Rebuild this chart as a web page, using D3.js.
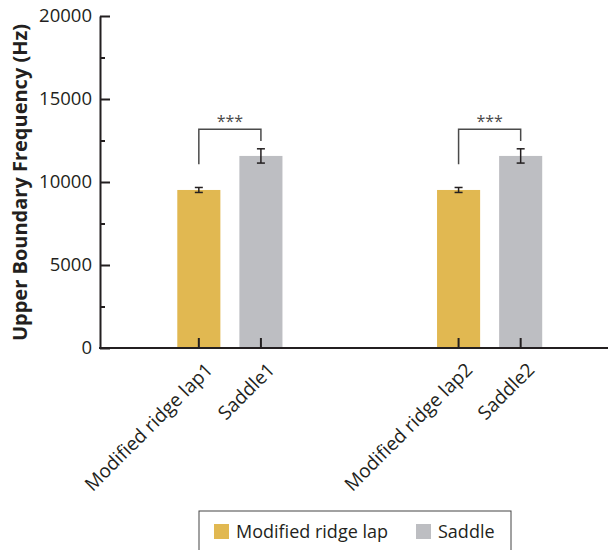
<!DOCTYPE html>
<html>
<head>
<meta charset="utf-8">
<script src="https://cdn.jsdelivr.net/npm/d3@7"></script>
<style>
  html, body { margin: 0; padding: 0; background: #fff; }
  svg { display: block; }
  text { font-family: "Open Sans", "Noto Sans", sans-serif; fill: #231f20; }
</style>
</head>
<body>
<svg id="chart" width="608" height="550"></svg>
<script>
// Upper boundary frequency by position, two measurement sets
const groups = ["1", "2"];
const seriesNames = ["Modified ridge lap", "Saddle"];
const categoryLabels = [
  ["Modified ridge lap1", "Saddle1"],
  ["Modified ridge lap2", "Saddle2"]
];
const ridgeLapMeans = [9520, 9520];
const ridgeLapErrors = [150, 150];
const saddleMeans = [11570, 11570];
const saddleErrors = [430, 430];
const significance = ["***", "***"];
const yTicks = [0, 5000, 10000, 15000, 20000];
const yMinorTicks = [2500, 7500, 12500, 17500];

const colors = ["#e1b851", "#bdbec2"];
const ink = "#231f20";

const svg = d3.select("#chart");
svg.append("rect").attr("width", 608).attr("height", 550).attr("fill", "#fff");

const plotLeft = 100, plotBottom = 348, plotTop = 16, plotRight = 619.5;

const y = d3.scaleLinear().domain([0, 20000]).range([plotBottom, plotTop]);
const xGroup = d3.scaleBand().domain(groups).range([plotLeft, plotRight]).padding(0);
const xSeries = d3.scaleBand().domain(seriesNames).range([0, xGroup.bandwidth()])
  .paddingInner(0.306).paddingOuter(1.245);

const rows = groups.map((g, i) => ({
  group: g,
  values: [
    { series: seriesNames[0], mean: ridgeLapMeans[i], err: ridgeLapErrors[i], label: categoryLabels[i][0] },
    { series: seriesNames[1], mean: saddleMeans[i], err: saddleErrors[i], label: categoryLabels[i][1] }
  ],
  sig: significance[i]
}));

const cx = (g, s) => xGroup(g) + xSeries(s) + xSeries.bandwidth() / 2;

// bars
const gBars = svg.append("g");
rows.forEach(r => {
  r.values.forEach((v, j) => {
    gBars.append("rect")
      .attr("x", xGroup(r.group) + xSeries(v.series))
      .attr("y", y(v.mean))
      .attr("width", xSeries.bandwidth())
      .attr("height", y(0) - y(v.mean))
      .attr("fill", colors[j]);
  });
});

// error bars
const gErr = svg.append("g").attr("stroke", ink).attr("stroke-width", 1.5).attr("fill", "none");
rows.forEach(r => {
  r.values.forEach(v => {
    const x = cx(r.group, v.series);
    const y1 = y(v.mean + v.err), y0 = y(v.mean - v.err);
    gErr.append("line").attr("x1", x).attr("x2", x).attr("y1", y1).attr("y2", y0);
    gErr.append("line").attr("x1", x - 4).attr("x2", x + 4).attr("y1", y1).attr("y2", y1);
    gErr.append("line").attr("x1", x - 4).attr("x2", x + 4).attr("y1", y0).attr("y2", y0);
  });
});

// significance brackets
const gSig = svg.append("g");
rows.forEach(r => {
  const a = r.values[0], b = r.values[1];
  const xa = cx(r.group, a.series), xb = cx(r.group, b.series);
  const yTop = y(Math.max(a.mean + a.err, b.mean + b.err)) - 19.5;
  gSig.append("path")
    .attr("d", `M${xa},${yTop + 35}V${yTop}H${xb}V${yTop + 11.7}`)
    .attr("fill", "none").attr("stroke", "#4a4a4a").attr("stroke-width", 1.5);
  gSig.append("text")
    .attr("x", (xa + xb) / 2).attr("y", yTop - 2.5)
    .attr("text-anchor", "middle").attr("font-size", 16).style("fill", "#4a4a4a")
    .text(r.sig);
});

// y axis
const yAxis = svg.append("g").attr("transform", `translate(${plotLeft},0)`)
  .call(d3.axisLeft(y).tickValues(yTicks).tickSize(-10).tickSizeOuter(0).tickPadding(8).tickFormat(d3.format("d")));
yAxis.select(".domain").attr("stroke", ink).attr("stroke-width", 2);
yAxis.selectAll(".tick line").attr("stroke", ink).attr("stroke-width", 2);
yAxis.selectAll(".tick text").attr("font-size", 18.5).attr("font-family", "Open Sans").style("fill", ink);

const yMinor = svg.append("g").attr("transform", `translate(${plotLeft},0)`)
  .call(d3.axisLeft(y).tickValues(yMinorTicks).tickSize(-5).tickFormat(""));
yMinor.select(".domain").remove();
yMinor.selectAll(".tick line").attr("stroke", ink).attr("stroke-width", 2);

// x axis
const gX = svg.append("g");
gX.append("line").attr("x1", plotLeft - 1).attr("x2", 608).attr("y1", plotBottom).attr("y2", plotBottom)
  .attr("stroke", ink).attr("stroke-width", 2);
rows.forEach(r => {
  r.values.forEach(v => {
    const x = cx(r.group, v.series);
    gX.append("line").attr("x1", x).attr("x2", x).attr("y1", plotBottom).attr("y2", plotBottom - 10)
      .attr("stroke", ink).attr("stroke-width", 2);
    gX.append("text")
      .attr("transform", `translate(${x + 15},${plotBottom + 23}) rotate(-45)`)
      .attr("text-anchor", "end").attr("font-size", 19)
      .text(v.label);
  });
});

// y title
svg.append("text")
  .attr("transform", `translate(27,182.5) rotate(-90)`)
  .attr("text-anchor", "middle").attr("font-size", 20).attr("font-weight", "bold")
  .text("Upper Boundary Frequency (Hz)");

// legend
const lg = svg.append("g");
lg.append("rect").attr("x", 199).attr("y", 511).attr("width", 312).attr("height", 60)
  .attr("fill", "#fff").attr("stroke", "#444").attr("stroke-width", 1);
const legendX = [214, 416];
seriesNames.forEach((s, i) => {
  lg.append("rect").attr("x", legendX[i]).attr("y", 524).attr("width", 15).attr("height", 15).attr("fill", colors[i]);
  lg.append("text").attr("x", legendX[i] + 22).attr("y", 537.5).attr("font-size", 18).text(s);
});
</script>
</body>
</html>
